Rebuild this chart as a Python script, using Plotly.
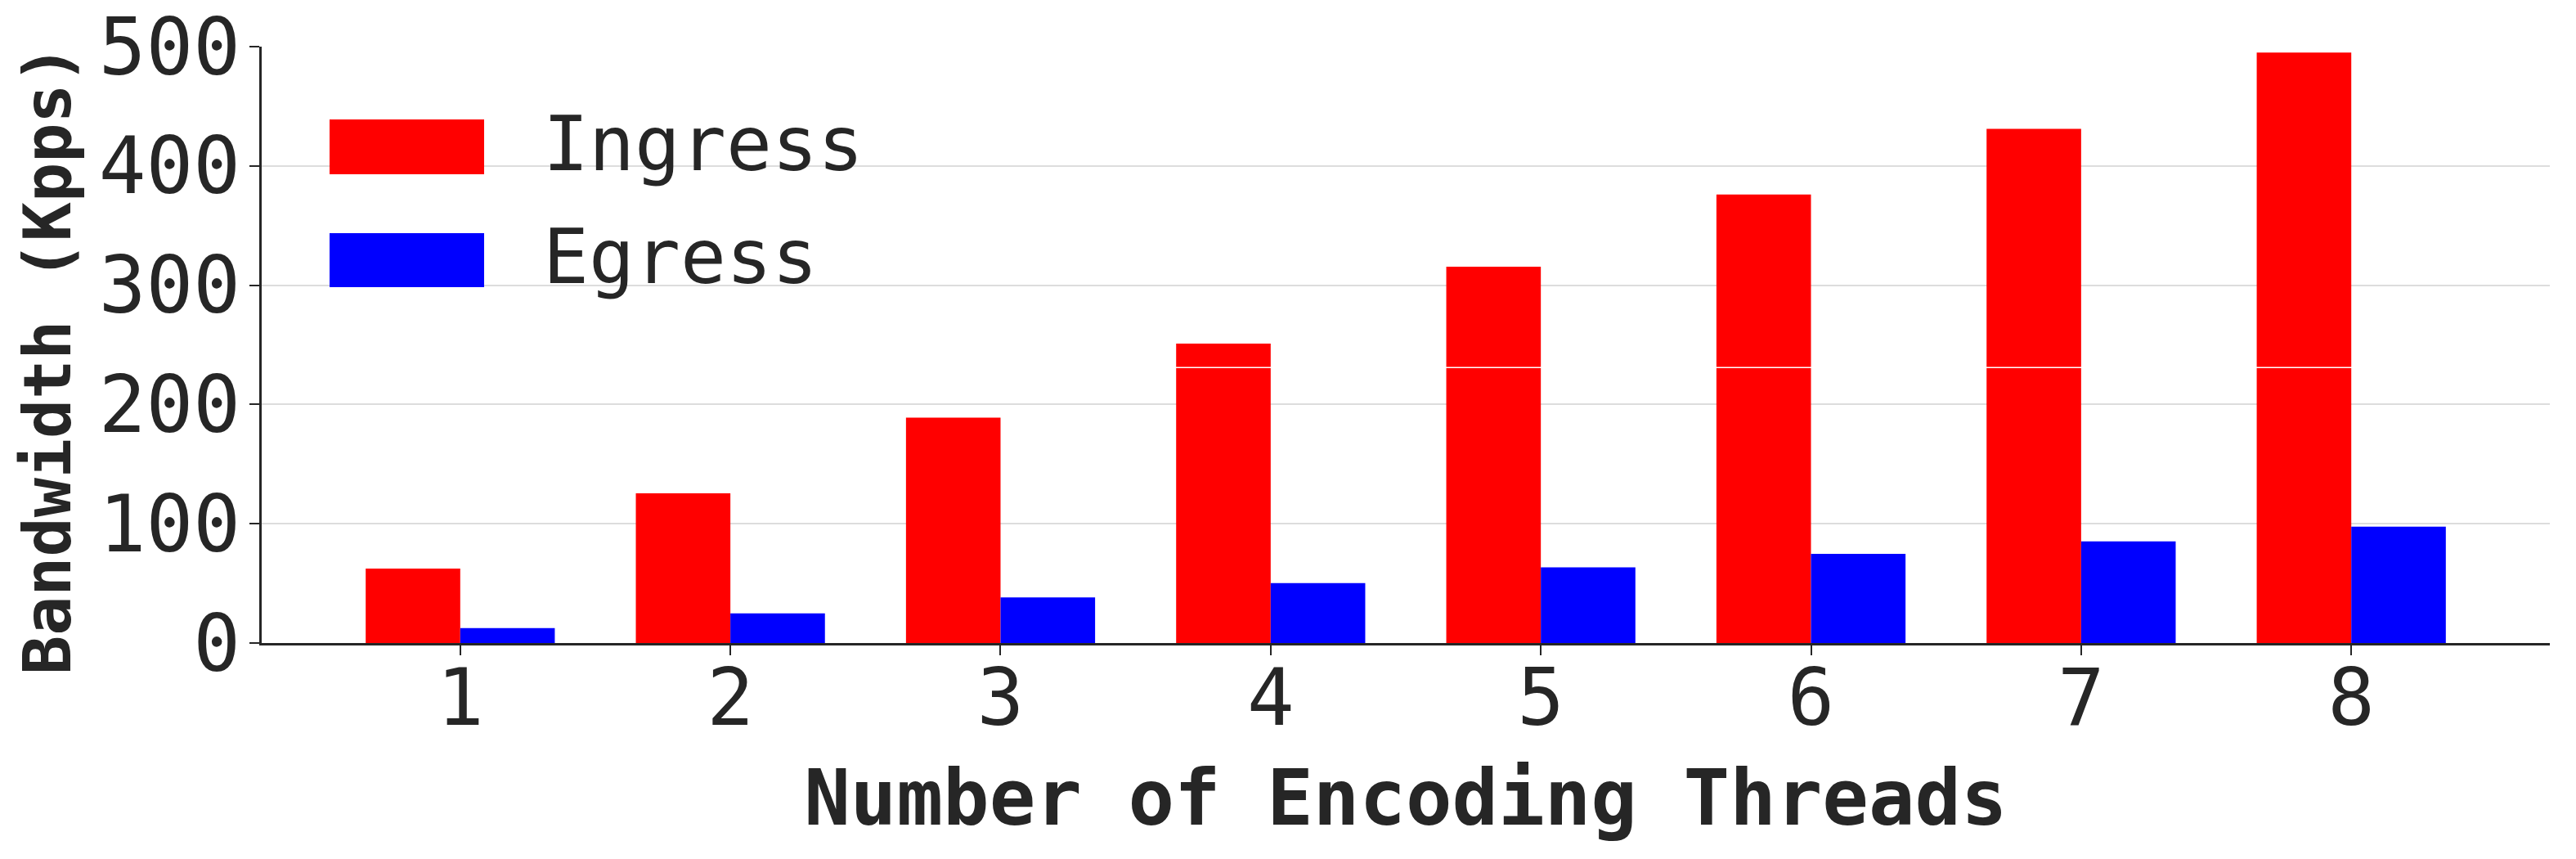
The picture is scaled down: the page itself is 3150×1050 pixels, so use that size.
import plotly.graph_objects as go

threads = [1, 2, 3, 4, 5, 6, 7, 8]
ingress = [62.5, 125.5, 189, 251, 315.5, 376, 431, 495]
egress = [12.5, 24.8, 38.2, 50.3, 63.5, 74.8, 85.2, 97.5]
y_ticks = [0, 100, 200, 300, 400, 500]
series_names = ["Ingress", "Egress"]
seam_level = 231  # thin white seam visible across the tall Ingress bars in the original

FONT = "DejaVu Sans Mono"
TXT = "#262626"
W, H = 3150, 1050
ML, MR, MT, MB = 320, 32, 57, 264

fig = go.Figure()
fig.add_trace(go.Bar(x=threads, y=ingress, name=series_names[0],
                     marker=dict(color="#ff0000", line=dict(width=0))))
fig.add_trace(go.Bar(x=threads, y=egress, name=series_names[1],
                     marker=dict(color="#0000ff", line=dict(width=0))))

fig.add_shape(type="line", xref="x", yref="y", x0=3.5, x1=8.5,
              y0=seam_level, y1=seam_level,
              line=dict(color="white", width=1.5), layer="above")

pw = W - ML - MR
ph = H - MT - MB
def px(x):
    return (x - ML) / pw
def py(y):
    return (H - MB - y) / ph

# manual legend (large patches like the reference)
legend_rows = [(series_names[0], "#ff0000", 146, 213), (series_names[1], "#0000ff", 285, 351)]
for name, col, y0, y1 in legend_rows:
    fig.add_shape(type="rect", xref="paper", yref="paper",
                  x0=px(403), x1=px(592), y0=py(y1), y1=py(y0),
                  fillcolor=col, line=dict(width=0), layer="above")
    fig.add_annotation(xref="paper", yref="paper", x=px(662), y=py((y0 + y1) / 2 - 4),
                       text=name, showarrow=False, xanchor="left", yanchor="middle",
                       font=dict(family=FONT, size=93, color=TXT))

# y-axis title
fig.add_annotation(xref="paper", yref="paper", x=px(58), y=py(440),
                   text="<b>Bandwidth (Kpps)</b>", textangle=-90, showarrow=False,
                   xanchor="center", yanchor="middle",
                   font=dict(family=FONT, size=80, color=TXT))

fig.update_layout(
    width=W, height=H,
    margin=dict(l=ML, r=MR, t=MT, b=MB, pad=0, autoexpand=False),
    paper_bgcolor="white", plot_bgcolor="white",
    barmode="group", bargap=0.3, bargroupgap=0,
    showlegend=False,
    font=dict(family=FONT, color=TXT),
)
fig.update_xaxes(
    automargin=False,
    range=[0.265, 8.735], tickmode="array", tickvals=threads,
    ticktext=[str(t) for t in threads],
    tickfont=dict(family=FONT, size=96, color=TXT),
    ticks="outside", ticklen=12, tickwidth=1.5, tickcolor=TXT,
    ticklabelstandoff=-30,
    showline=True, linecolor=TXT, linewidth=2.5,
    showgrid=False, zeroline=False,
    title=dict(text="Number of Encoding Threads", standoff=35,
               font=dict(family=FONT, size=94, color=TXT, weight="bold")),
)
fig.update_yaxes(
    automargin=False,
    range=[0, 500], tickmode="array", tickvals=y_ticks,
    ticktext=[str(v) for v in y_ticks],
    tickfont=dict(family=FONT, size=96, color=TXT),
    ticks="outside", ticklen=12, tickwidth=1.5, tickcolor=TXT,
    ticklabelstandoff=-8,
    showline=True, linecolor=TXT, linewidth=2.5,
    showgrid=True, gridcolor="#dddddd", gridwidth=2, zeroline=False,
)

fig.write_html("out.html")
